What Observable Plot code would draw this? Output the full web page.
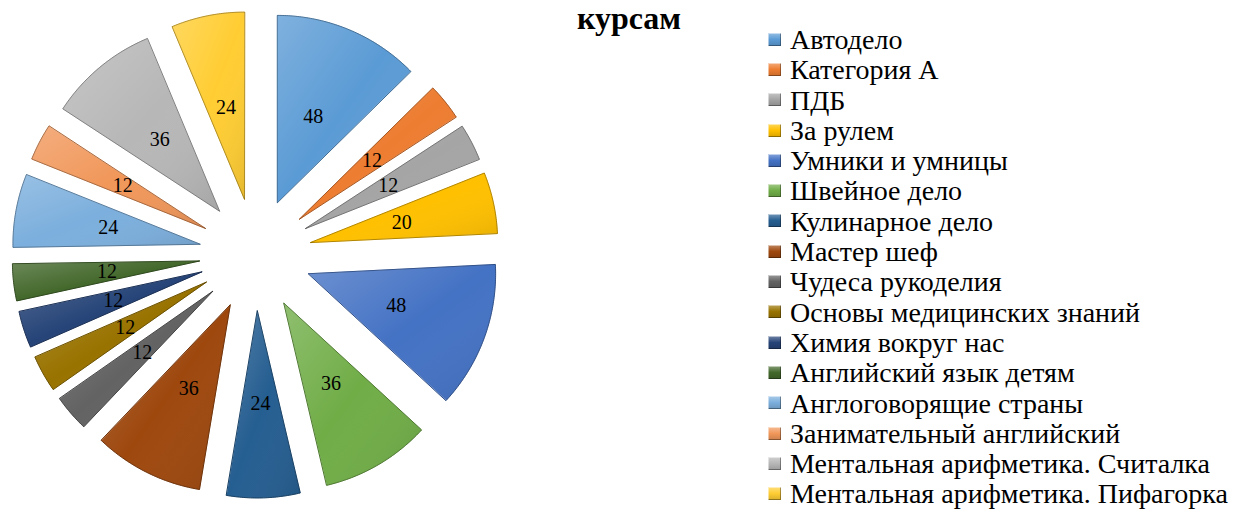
<!DOCTYPE html>
<html><head><meta charset="utf-8">
<script src="https://cdn.jsdelivr.net/npm/d3@7"></script>
<script src="https://cdn.jsdelivr.net/npm/@observablehq/plot@0.6"></script>
<style>
body{margin:0;background:#fff;}
#wrap{position:relative;width:1234px;height:511px;overflow:hidden;font-family:"Liberation Serif","Times New Roman",serif;color:#000;}
#pie{position:absolute;left:0;top:0;}
#title{position:absolute;left:529px;width:200px;top:0px;text-align:center;font-weight:bold;font-size:32px;line-height:37px;white-space:nowrap;}
#legend{position:absolute;left:768px;top:25px;}
.row{height:30.3px;line-height:30.3px;font-size:28px;white-space:nowrap;display:flex;align-items:center;}
.sw{width:13px;height:13px;margin-right:9px;margin-top:-2px;flex:none;background-image:linear-gradient(rgba(255,255,255,.35),rgba(255,255,255,0) 50%,rgba(0,0,0,.15));box-shadow:inset 1px 1px 0 rgba(255,255,255,.5), inset -1px -1px 0 rgba(0,0,0,.35);}
</style></head>
<body>
<svg width="0" height="0" style="position:absolute">
<defs>
<linearGradient id="shine" x1="0" y1="0" x2="1" y2="1">
<stop offset="0" stop-color="#fff" stop-opacity="0.22"/>
<stop offset="0.5" stop-color="#fff" stop-opacity="0.0"/>
<stop offset="1" stop-color="#000" stop-opacity="0.10"/>
</linearGradient>
</defs>
</svg>
<div id="wrap">
<div id="pie"></div>
<div id="title">курсам</div>
<div id="legend"></div>
</div>
<script>
const names = ["Автодело","Категория А","ПДБ","За рулем","Умники и умницы","Швейное дело","Кулинарное дело","Мастер шеф","Чудеса рукоделия","Основы медицинских знаний","Химия вокруг нас","Английский язык детям","Англоговорящие страны","Занимательный английский","Ментальная арифметика. Считалка","Ментальная арифметика. Пифагорка"];
const values = [48,12,12,20,48,36,24,36,12,12,12,12,24,12,36,24];
const palette = ["#5B9BD5","#ED7D31","#A5A5A5","#FFC000","#4472C4","#70AD47","#255E91","#9E480E","#636363","#997300","#264478","#43682B","#7CAFDD","#F1975A","#B7B7B7","#FFCD33"];
const title = "курсам";

const E = 0.302;
const LR = 0.80;
const arcs = d3.pie().sort(null).value(d => d)(values);
const poly = [];
const labels = [];
arcs.forEach((p, i) => {
  const m = (p.startAngle + p.endAngle) / 2;
  const ox = E * Math.sin(m), oy = E * Math.cos(m);
  poly.push({name: names[i], x: ox, y: oy});
  const n = Math.max(4, Math.ceil((p.endAngle - p.startAngle) / 0.01));
  for (let k = 0; k <= n; k++) {
    const a = p.startAngle + (p.endAngle - p.startAngle) * k / n;
    poly.push({name: names[i], x: ox + Math.sin(a), y: oy + Math.cos(a)});
  }
  labels.push({name: names[i], v: values[i], x: LR * Math.sin(m), y: LR * Math.cos(m)});
});

const chart = Plot.plot({
  width: 510, height: 511, margin: 0,
  style: {fontFamily: "'Liberation Serif','Times New Roman',serif", background: "transparent"},
  x: {domain: [-255/187, 255/187], axis: null},
  y: {domain: [(254-511)/187, 254/187], axis: null},
  color: {domain: names, range: palette},
  marks: [
    Plot.line(poly, {x: "x", y: "y", z: "name", fill: "name", stroke: "name", strokeWidth: 1, curve: "linear-closed"}),
    Plot.line(poly, {x: "x", y: "y", z: "name", fill: "url(#shine)", stroke: "rgba(0,0,0,0.3)", strokeWidth: 1, curve: "linear-closed"}),
    Plot.text(labels, {x: "x", y: "y", text: d => String(d.v), fontSize: 20, fill: "#000"})
  ]
});
document.getElementById("pie").append(chart);
document.getElementById("title").textContent = title;

const color = chart.scale("color");
const lg = document.getElementById("legend");
names.forEach(n => {
  const row = document.createElement("div");
  row.className = "row";
  const sw = document.createElement("span");
  sw.className = "sw";
  sw.style.backgroundColor = color.apply(n);
  const t = document.createElement("span");
  t.textContent = n;
  row.append(sw, t);
  lg.append(row);
});
</script>
</body></html>
